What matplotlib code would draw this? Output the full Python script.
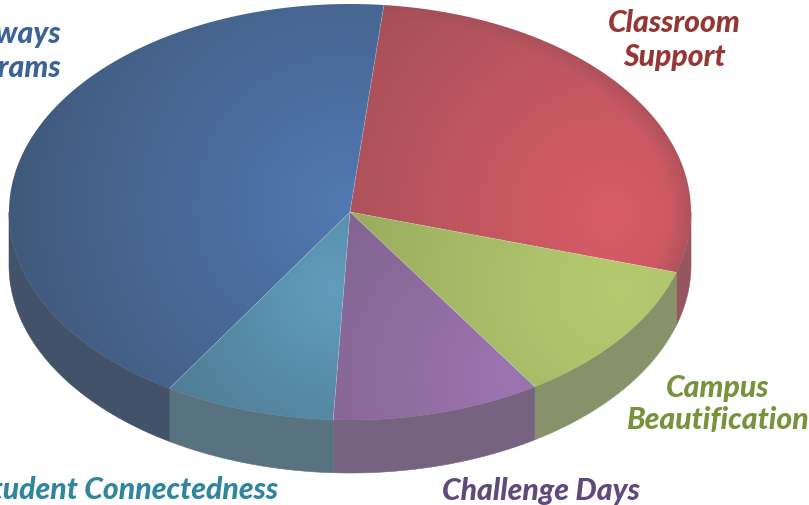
import numpy as np
import matplotlib
matplotlib.use("Agg")
import matplotlib.pyplot as plt
from matplotlib.colors import to_rgb
from matplotlib.patches import Polygon

# share of each slice in percent, clockwise from the top
categories = ["Pathways\nPrograms", "Classroom\nSupport", "Campus\nBeautification",
              "Challenge Days", "Student Connectedness"]
values = [42.7, 28.1, 11.2, 9.9, 8.1]
# order for drawing round the pie
order = ["Classroom\nSupport", "Campus\nBeautification", "Challenge Days",
         "Student Connectedness", "Pathways\nPrograms"]

W, H = 809, 505
CX, CY, RX, RY = 350, 212, 341, 208
DEPTH = 53
START = 84.3

# bright colour, dark colour, wall colour, label colour
bright = {"Pathways\nPrograms": "#5179b2", "Classroom\nSupport": "#d95c66",
          "Campus\nBeautification": "#b6cb70", "Challenge Days": "#9c75b0",
          "Student Connectedness": "#609dbc"}
dark = {"Pathways\nPrograms": "#40597a", "Classroom\nSupport": "#a24f58",
        "Campus\nBeautification": "#93a65c", "Challenge Days": "#826490",
        "Student Connectedness": "#4f7a94"}
wall = {"Pathways\nPrograms": "#415269", "Classroom\nSupport": "#955660",
        "Campus\nBeautification": "#87926a", "Challenge Days": "#75637f",
        "Student Connectedness": "#587280"}
label_col = {"Pathways\nPrograms": "#3c6497", "Classroom\nSupport": "#953735",
             "Campus\nBeautification": "#77933c", "Challenge Days": "#604a7b",
             "Student Connectedness": "#31859c"}
# where each slice is lit from, and how fast it falls off
light = {"Pathways\nPrograms": (345, 205, 345), "Classroom\nSupport": (610, 215, 330),
         "Campus\nBeautification": (620, 290, 340), "Challenge Days": (510, 375, 230),
         "Student Connectedness": (335, 290, 200)}
# x, y, alignment, line spacing
label_pos = {"Pathways\nPrograms": (62, 51, "right", 1.27), "Classroom\nSupport": (674, 40, "center", 1.27),
             "Campus\nBeautification": (718, 404, "center", 1.2), "Challenge Days": (541, 491, "center", 1.2),
             "Student Connectedness": (278, 490, "right", 1.2)}

share = dict(zip(categories, values))

fig = plt.figure(figsize=(W / 100, H / 100), dpi=100)
ax = fig.add_axes([0, 0, 1, 1])
ax.set_xlim(0, W)
ax.set_ylim(H, 0)
ax.axis("off")


def rim(t):
    return CX + RX * np.cos(np.radians(t)), CY - RY * np.sin(np.radians(t))


yy, xx = np.mgrid[0:H, 0:W] + 0.5
edge = np.hypot((xx - CX) / RX, (yy - CY) / RY)

t0 = START
for name in order:
    t1 = t0 - share[name] * 3.6
    ts = np.linspace(t0, t1, 200)

    # wall, only the part that faces the viewer
    vis = ts[(np.sin(np.radians(ts)) < 0)]
    if len(vis) > 1:
        x, y = rim(vis)
        pts = np.r_[np.c_[x, y], np.c_[x[::-1], y[::-1] + DEPTH]]
        ax.add_patch(Polygon(pts, closed=True, fc=wall[name], ec=wall[name], lw=0.4, zorder=1))

    # top face with its own soft light
    lx, ly, fall = light[name]
    f = np.clip(1 - np.hypot(xx - lx, yy - ly) / fall, 0, 1)
    if name == "Classroom\nSupport":
        f = f * np.clip((1.0 - edge) / 0.1 + 0.35, 0, 1)
    c0, c1 = np.array(to_rgb(dark[name])), np.array(to_rgb(bright[name]))
    img = c0 + (c1 - c0) * f[..., None]

    x, y = rim(ts)
    face = Polygon(np.r_[[[CX, CY]], np.c_[x, y]], closed=True, fc="none", ec="none", zorder=2)
    ax.add_patch(face)
    im = ax.imshow(img, extent=(0, W, H, 0), zorder=2, interpolation="bilinear", aspect="auto")
    im.set_clip_path(face)

    # pale seam between the slices
    ex, ey = rim(t0)
    ax.plot([CX, ex], [CY, ey], color="white", lw=0.6, alpha=0.2, zorder=3)

    tx, ty, ha, sp = label_pos[name]
    ax.text(tx, ty, name, color=label_col[name], fontsize=21.7, family="Lato", weight="black",
            style="italic", ha=ha, va="center", linespacing=sp, zorder=4)
    t0 = t1

ax.set_xlim(0, W)
ax.set_ylim(H, 0)
fig.savefig("out.png", dpi=100, facecolor="white")
